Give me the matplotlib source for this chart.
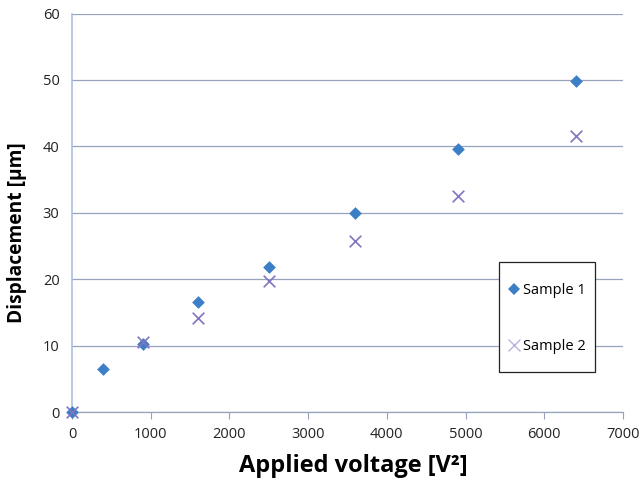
import matplotlib
matplotlib.use("Agg")
import matplotlib.pyplot as plt
from matplotlib.lines import Line2D
from matplotlib.patches import Rectangle

voltage1 = [0, 400, 900, 1600, 2500, 3600, 4900, 6400]
disp1 = [0, 6.5, 10.3, 16.6, 21.8, 29.9, 39.6, 49.8]
voltage2 = [0, 900, 1600, 2500, 3600, 4900, 6400]
disp2 = [0, 10.6, 14.2, 19.7, 25.8, 32.5, 41.5]
xticks = [0, 1000, 2000, 3000, 4000, 5000, 6000, 7000]
yticks = [0, 10, 20, 30, 40, 50, 60]

plt.rcParams['font.family'] = ['Open Sans', 'DejaVu Sans']

fig = plt.figure(figsize=(6.41, 4.82), dpi=100)
W, H = 551.0, 398.5
ax = fig.add_axes([72/641, 70/482, W/641, H/482])

blue = '#3d7fc6'
purple = '#7f75c0'
grid = '#97a3bb'

ax.scatter(voltage1, disp1, marker='D', s=42, color=blue, zorder=3, linewidths=0, clip_on=False)
ax.scatter(voltage2, disp2, marker='x', s=70, color=purple, zorder=3, linewidths=1.2, clip_on=False)

ax.set_xlim(0, 7000)
ax.set_ylim(0, 60)
ax.set_xticks(xticks)
ax.set_yticks(yticks)
ax.yaxis.grid(True, color=grid, linewidth=0.9)
ax.set_axisbelow(True)

for s in ['top', 'right']:
    ax.spines[s].set_visible(False)
ax.spines['left'].set_color('#a9c1e4')
ax.spines['left'].set_linewidth(1.2)
ax.spines['bottom'].set_color(grid)
ax.spines['bottom'].set_linewidth(0.9)
ax.tick_params(axis='y', length=0, labelsize=10.5, pad=9, labelcolor='#222222')
ax.tick_params(axis='x', length=5, direction='out', color=grid, labelsize=10.5, pad=6, labelcolor='#222222')

ax.set_xlabel('Applied voltage [V²]', fontsize=17, fontweight='bold')
ax.set_ylabel('Displacement [µm]', fontsize=13.8, fontweight='bold')
ax.xaxis.set_label_coords((353-72)/W, (412-466)/H)
ax.xaxis.label.set_verticalalignment('center')
ax.yaxis.set_label_coords((17-72)/W, (412-233)/H)
ax.yaxis.label.set_verticalalignment('center')

# legend frame
rect = Rectangle(((499-72)/W, (412-372)/H), 96/W, 110/H, transform=ax.transAxes,
                 facecolor='white', edgecolor='#222222', linewidth=0.9, zorder=5, clip_on=False)
ax.add_patch(rect)

handles = [Line2D([], [], marker='D', linestyle='none', color=blue, markersize=6, markeredgewidth=0),
           Line2D([], [], marker='x', linestyle='none', color='#b8b4de', markersize=9, markeredgewidth=1.0)]
leg = ax.legend(handles, ['Sample 1', 'Sample 2'], loc='center left',
                bbox_to_anchor=((499-72)/W, (412-318.5)/H),
                fontsize=10.5, frameon=False,
                labelspacing=2.85, handletextpad=0.15, handlelength=1.0,
                borderaxespad=0, borderpad=0.5)
leg.set_zorder(6)

fig.savefig('out.png', dpi=100)
